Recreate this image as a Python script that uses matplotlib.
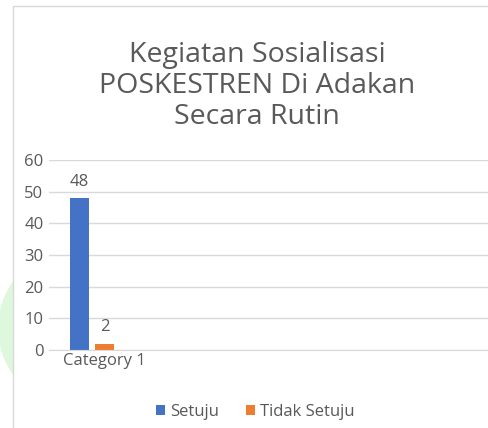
import numpy as np
import matplotlib.pyplot as plt
import matplotlib.transforms as mtransforms
from matplotlib.patches import Rectangle, Wedge

# data
categories = ['Category 1']
series_names = ['Setuju', 'Tidak Setuju']
setuju = [48]
tidak_setuju = [2]
colors = ['#4472C4', '#ED7D31']
text_color = '#595959'

plt.rcParams['font.family'] = ['Open Sans', 'DejaVu Sans']

fig = plt.figure(figsize=(4.88, 4.28), dpi=100)

# faint green page watermark peeking in at the left edge
clip = Rectangle((0, 0), 13, 428, transform=None)
ring = Wedge((78, 428 - 328), 80, 0, 360, width=22, transform=None,
             facecolor='#DDF8DD', edgecolor='none')
ring.set_clip_path(clip)
fig.patches.append(ring)

# chart border (cut off at right and bottom like the screenshot)
fig.patches.append(Rectangle((13 / 488, -0.1), 1.2, (428 - 6) / 428 + 0.1,
                             transform=fig.transFigure, fill=False,
                             edgecolor='#D9D9D9', linewidth=1))

ax = fig.add_axes([49 / 488, 78 / 428, 439 / 488, 190 / 428])

x = np.arange(len(categories))
width = 0.22
offset = 0.145
bars1 = ax.bar(x - offset, setuju, width, color=colors[0], label=series_names[0])
bars2 = ax.bar(x + offset, tidak_setuju, width, color=colors[1],
               label=series_names[1])

for bars in (bars1, bars2):
    ax.bar_label(bars, padding=6, fontsize=12, color=text_color)

ax.set_ylim(0, 60)
ax.set_xlim(-0.5, 4.6)
ax.set_yticks(range(0, 61, 10))
ax.yaxis.grid(True, color='#D9D9D9', linewidth=1)
ax.set_axisbelow(True)
for s in ax.spines.values():
    s.set_visible(False)
ax.spines['bottom'].set_visible(True)
ax.spines['bottom'].set_color('#D9D9D9')
ax.tick_params(length=0, labelsize=12, labelcolor=text_color)
ax.tick_params(axis='y', pad=4)
ax.tick_params(axis='x', pad=2)
ax.set_xticks(x)
ax.set_xticklabels(categories)
shift = mtransforms.ScaledTranslation(12 / 100, 0, fig.dpi_scale_trans)
for lbl in ax.get_xticklabels():
    lbl.set_transform(lbl.get_transform() + shift)

fig.text(257 / 488, 1 - 86 / 428,
         'Kegiatan Sosialisasi\nPOSKESTREN Di Adakan\nSecara Rutin',
         ha='center', va='center', fontsize=20.5, color=text_color,
         linespacing=1.14)

fig.legend(loc='center', bbox_to_anchor=(255 / 488, 1 - 412 / 428), ncol=2,
           frameon=False, fontsize=12, labelcolor=text_color,
           handlelength=0.55, handleheight=0.55, handletextpad=0.3,
           columnspacing=1.6)

plt.savefig('out.png', dpi=100)
plt.close()
